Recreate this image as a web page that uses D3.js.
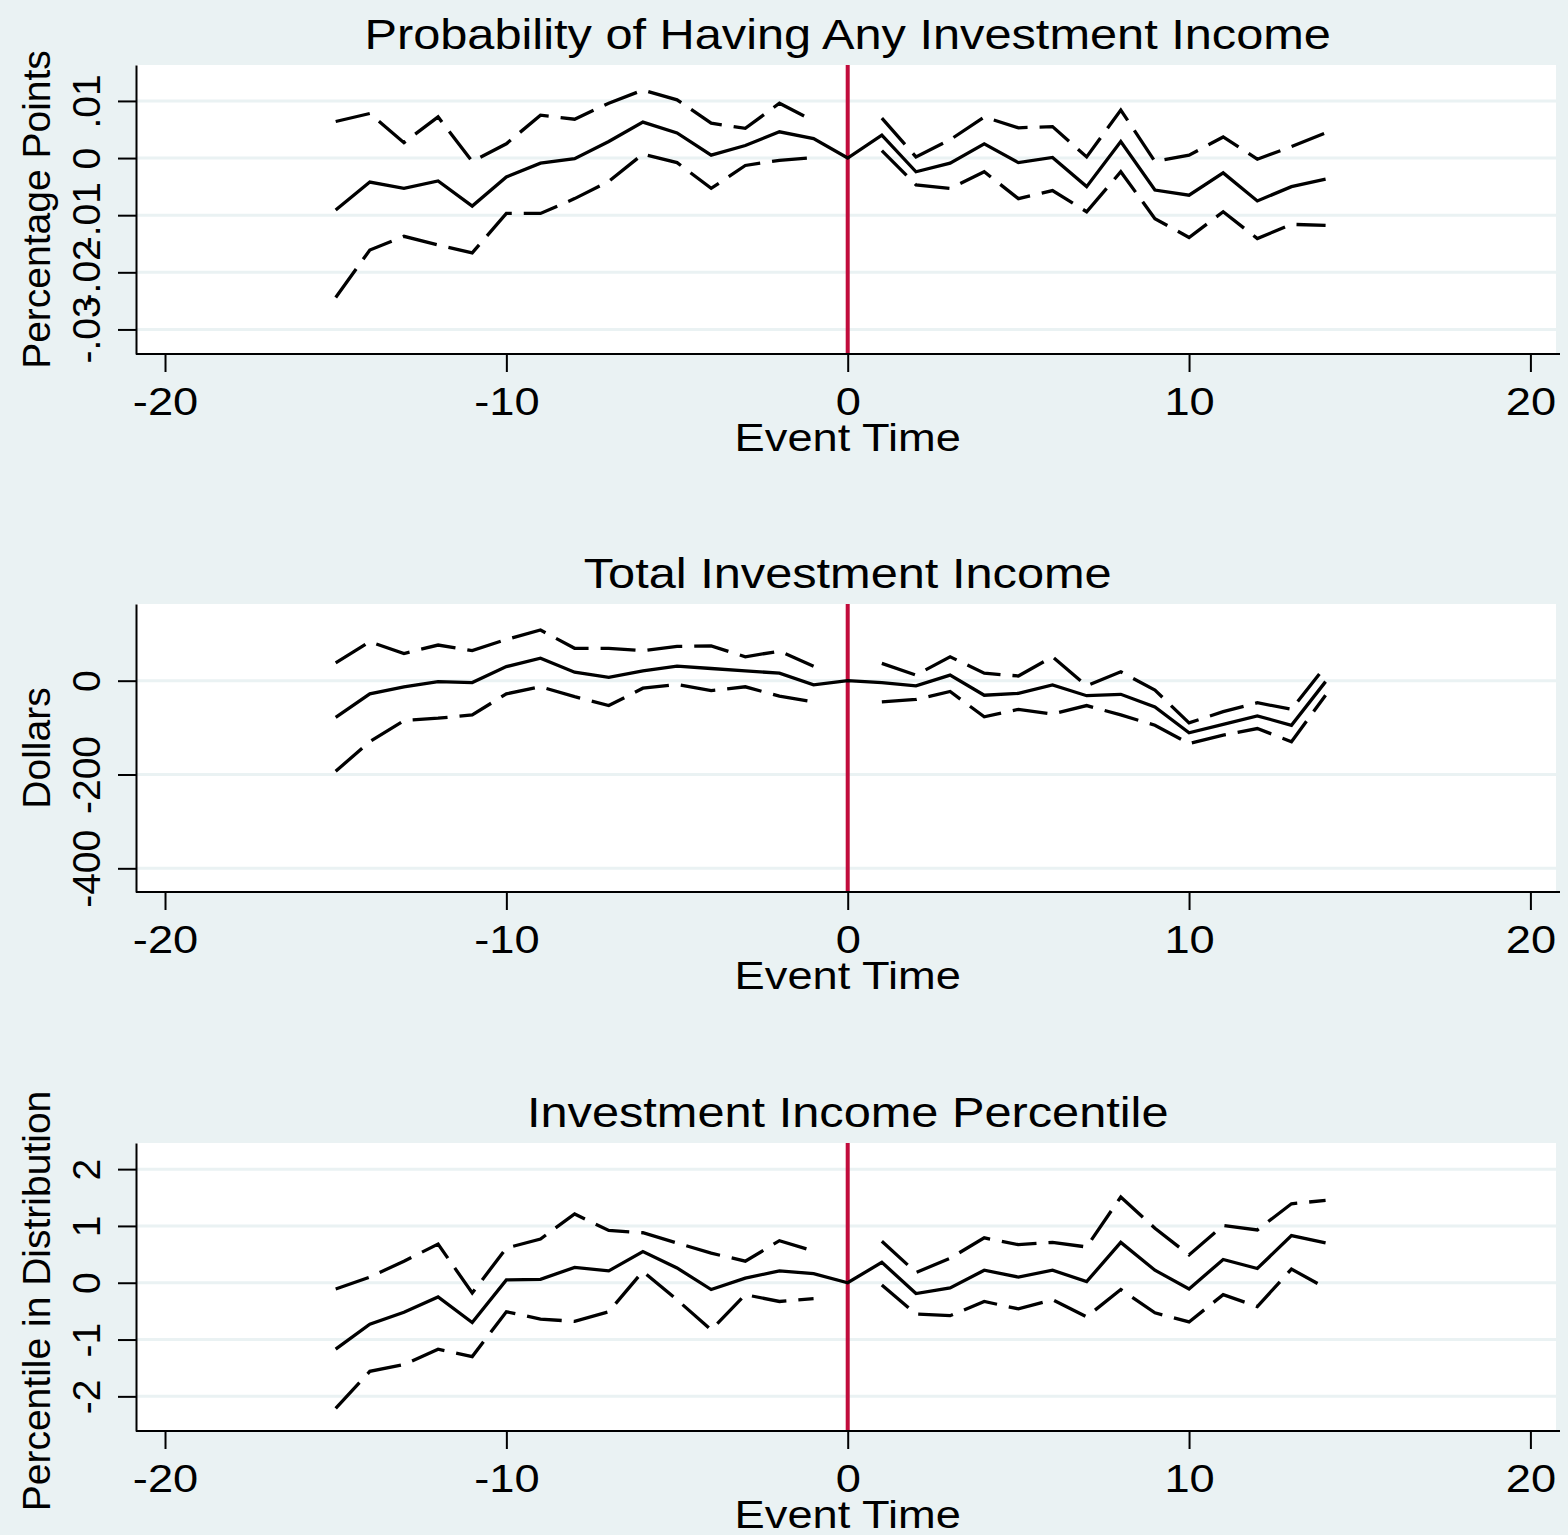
<!DOCTYPE html>
<html>
<head>
<meta charset="utf-8">
<script src="https://cdn.jsdelivr.net/npm/d3@7"></script>
<style>
    body { margin: 0; background: #eaf2f3; }
    svg { display: block; font-family: "Liberation Sans", Arial, sans-serif; }
    .grid line { stroke: #eaf2f3; stroke-width: 3; }
    .axis path, .axis line { stroke: #000; stroke-width: 2; }
    .axis text { fill: #000; font-size: 39px; }
    .coef { fill: none; stroke: #000; stroke-width: 3.3; }
    .ci { fill: none; stroke: #000; stroke-width: 3.3; stroke-dasharray: 35 12; }
</style>
</head>
<body>
<svg id="chart" width="1568" height="1535"></svg>
<script>
// Event time grid
const eventTime = [-15, -14, -13, -12, -11, -10, -9, -8, -7, -6, -5, -4, -3, -2, -1,
    0, 1, 2, 3, 4, 5, 6, 7, 8, 9, 10, 11, 12, 13, 14];
const xTicks = [-20, -10, 0, 10, 20];

// Panel 1: probability of any investment income (null = omitted at t=0)
const probCoef = [-0.0091, -0.0042, -0.0053, -0.0040, -0.0084, -0.0033, -0.0009, -0.0001, 0.0029, 0.0063,
    0.0044, 0.0005, 0.0022, 0.0046, 0.0034, 0, 0.0040, -0.0024, -0.0009, 0.0025,
    -0.0008, 0.0001, -0.0050, 0.0029, -0.0056, -0.0065, -0.0026, -0.0075, -0.0050, -0.0037];
const probUpper = [0.0064, 0.0078, 0.0027, 0.0072, -0.0006, 0.0025, 0.0075, 0.0068, 0.0096, 0.0119,
    0.0102, 0.0061, 0.0052, 0.0096, 0.0065, null, 0.0070, 0.0002, 0.0032, 0.0072,
    0.0053, 0.0055, 0.0002, 0.0084, -0.0006, 0.0005, 0.0037, -0.0002, 0.0020, 0.0044];
const probLower = [-0.0244, -0.0161, -0.0137, -0.0152, -0.0166, -0.0097, -0.0097, -0.0071, -0.0041, 0.0007,
    -0.0008, -0.0053, -0.0013, -0.0004, 0.0001, null, 0.0013, -0.0047, -0.0053, -0.0024,
    -0.0071, -0.0057, -0.0094, -0.0024, -0.0106, -0.0139, -0.0094, -0.0141, -0.0116, -0.0118];
const probTicks = [-0.03, -0.02, -0.01, 0, 0.01];
const probTickLabels = ["-.03", "-.02", "-.01", "0", ".01"];

// Panel 2: total investment income, dollars
const dollarsCoef = [-78, -28, -13, -2, -4, 30, 48, 18, 7, 21,
    31, 26, 21, 16, -9, 0, -4, -11, 12, -31,
    -27, -9, -32, -29, -56, -111, -93, -75, -95, -2];
const dollarsUpper = [38, 83, 58, 76, 64, 88, 108, 69, 69, 64,
    73, 74, 51, 63, 31, null, 37, 12, 51, 16,
    10, 51, -11, 19, -20, -90, -66, -47, -61, 31];
const dollarsLower = [-193, -130, -85, -80, -73, -28, -13, -34, -53, -16,
    -8, -21, -13, -33, -45, null, -45, -40, -23, -77,
    -61, -71, -53, -73, -95, -134, -116, -102, -130, -31];
const dollarsTicks = [-400, -200, 0];
const dollarsTickLabels = ["-400", "-200", "0"];

// Panel 3: investment income percentile
const pctCoef = [-1.17, -0.73, -0.52, -0.25, -0.70, 0.05, 0.06, 0.27, 0.21, 0.55,
    0.26, -0.12, 0.08, 0.21, 0.16, 0, 0.36, -0.19, -0.09, 0.22,
    0.10, 0.22, 0.02, 0.71, 0.22, -0.11, 0.41, 0.25, 0.83, 0.70];
const pctUpper = [-0.11, 0.10, 0.38, 0.68, -0.18, 0.61, 0.77, 1.21, 0.92, 0.88,
    0.70, 0.52, 0.38, 0.74, 0.56, null, 0.73, 0.18, 0.43, 0.79,
    0.67, 0.71, 0.63, 1.51, 0.96, 0.49, 1.01, 0.93, 1.39, 1.45];
const pctLower = [-2.21, -1.56, -1.44, -1.17, -1.30, -0.51, -0.64, -0.68, -0.51, 0.20,
    -0.30, -0.83, -0.21, -0.33, -0.28, null, -0.04, -0.55, -0.58, -0.33,
    -0.46, -0.30, -0.60, -0.12, -0.53, -0.69, -0.21, -0.42, 0.24, -0.09];
const pctTicks = [-2, -1, 0, 1, 2];
const pctTickLabels = ["-2", "-1", "0", "1", "2"];

const svg = d3.select("#chart");
const plotLeft = 136, plotRight = 1556;
// The source graph is a bit wider than tall, so horizontal text is stretched
const stretch = "scale(1.16,1)";

let x = d3.scaleLinear().domain([-20.85, 20.75]).range([plotLeft, plotRight]);

function drawPanel(opts) {
    let g = svg.append("g");
    let y = d3.scaleLinear().domain(opts.yDomain).range([opts.bottom, opts.top]);

    // White plot region
    g.append("rect")
        .attr("x", plotLeft).attr("y", opts.top)
        .attr("width", plotRight - plotLeft).attr("height", opts.bottom - opts.top)
        .attr("fill", "#fff");

    // Horizontal gridlines
    g.append("g").classed("grid", true)
        .selectAll("line")
        .data(opts.ticks)
        .enter()
        .append("line")
        .attr("x1", plotLeft).attr("x2", plotRight)
        .attr("y1", d => y(d)).attr("y2", d => y(d));

    // Reference line at event time 0
    g.append("line")
        .attr("x1", x(0)).attr("x2", x(0))
        .attr("y1", opts.top).attr("y2", opts.bottom)
        .attr("stroke", "#c10c3c")
        .attr("stroke-width", 4);

    // Estimate and confidence bands
    let rows = eventTime.map((t, i) => ({t: t, c: opts.coef[i], u: opts.upper[i], l: opts.lower[i]}));
    let lineOf = key => d3.line()
        .defined(d => d[key] !== null)
        .x(d => x(d.t))
        .y(d => y(d[key]));

    g.append("path").datum(rows).classed("ci", true).attr("d", lineOf("u"));
    g.append("path").datum(rows).classed("ci", true).attr("d", lineOf("l"));
    g.append("path").datum(rows).classed("coef", true).attr("d", lineOf("c"));

    // X axis (plain hyphen minus like the original)
    let xAxis = g.append("g").classed("axis", true)
        .attr("transform", "translate(0," + opts.bottom + ")")
        .call(d3.axisBottom(x).tickValues(xTicks).tickSize(18).tickSizeOuter(0)
            .tickFormat(d => String(d)));
    xAxis.select(".domain").attr("d", "M" + plotLeft + ",0H1560");
    xAxis.selectAll("text").attr("y", 0).attr("dy", "61px").attr("transform", stretch);

    // Y axis with rotated labels
    let yAxis = g.append("g").classed("axis", true)
        .attr("transform", "translate(" + plotLeft + ",0)")
        .call(d3.axisLeft(y).tickValues(opts.ticks).tickSize(18).tickSizeOuter(0)
            .tickFormat((d, i) => opts.tickLabels[i]));
    yAxis.selectAll("text")
        .attr("transform", "rotate(-90)")
        .attr("x", 0).attr("y", -36).attr("dy", 0)
        .attr("text-anchor", "middle");

    // Titles
    g.append("text")
        .attr("transform", "translate(" + x(0) + "," + (opts.top - 16) + ") " + stretch)
        .attr("text-anchor", "middle")
        .attr("font-size", "42px")
        .text(opts.title);

    g.append("text")
        .attr("transform", "translate(" + x(0) + "," + (opts.bottom + 97) + ") " + stretch)
        .attr("text-anchor", "middle")
        .attr("font-size", "39px")
        .text("Event Time");

    g.append("text")
        .attr("transform", "translate(50," + ((opts.top + opts.bottom) / 2 + opts.yTitleShift) + ") rotate(-90)")
        .attr("text-anchor", "middle")
        .attr("font-size", "39px")
        .text(opts.yTitle);
}

drawPanel({
    title: "Probability of Having Any Investment Income", yTitle: "Percentage Points", yTitleShift: 0,
    top: 65, bottom: 354, yDomain: [-0.0343, 0.01629],
    ticks: probTicks, tickLabels: probTickLabels,
    coef: probCoef, upper: probUpper, lower: probLower
});

drawPanel({
    title: "Total Investment Income", yTitle: "Dollars", yTitleShift: 0,
    top: 604, bottom: 892, yDomain: [-450.5, 163.5],
    ticks: dollarsTicks, tickLabels: dollarsTickLabels,
    coef: dollarsCoef, upper: dollarsUpper, lower: dollarsLower
});

drawPanel({
    title: "Investment Income Percentile", yTitle: "Percentile in Distribution", yTitleShift: 14,
    top: 1143, bottom: 1431, yDomain: [-2.61, 2.46],
    ticks: pctTicks, tickLabels: pctTickLabels,
    coef: pctCoef, upper: pctUpper, lower: pctLower
});
</script>
</body>
</html>
